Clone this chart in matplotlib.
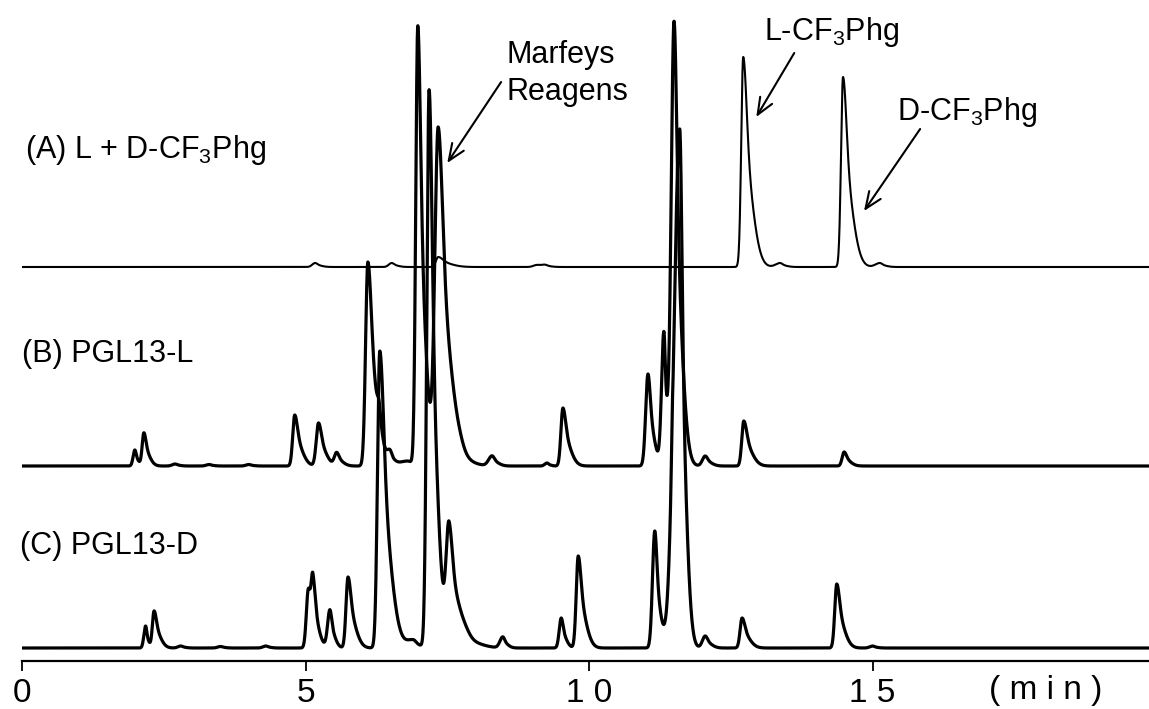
import numpy as np
import matplotlib
matplotlib.use("Agg")
import matplotlib.pyplot as plt

plt.rcParams["font.family"] = ["Liberation Sans", "DejaVu Sans"]
plt.rcParams["mathtext.fontset"] = "custom"
plt.rcParams["mathtext.rm"] = "Liberation Sans"
plt.rcParams["mathtext.it"] = "Liberation Sans:italic"
plt.rcParams["mathtext.default"] = "regular"

# ---- Peak tables ----
# retention time (min), peak height (signal units), left width, right width (min)
a_time   = [5.17, 6.52, 7.34, 9.08, 9.22, 12.72, 13.37, 14.48, 15.13]
a_height = [4, 4, 10, 2, 2, 210, 4, 190, 4]
a_left   = [0.05, 0.05, 0.04, 0.06, 0.06, 0.035, 0.08, 0.035, 0.08]
a_right  = [0.10, 0.10, 0.20, 0.10, 0.10, 0.15, 0.10, 0.15, 0.10]

b_time   = [1.99, 2.15, 2.70, 3.30, 4.00, 4.81, 5.23, 5.55, 6.10, 6.30, 6.49, 6.80,
            6.98, 7.34, 7.70, 8.29, 9.26, 9.54, 11.04, 11.32, 11.50, 12.05, 12.73, 14.50]
b_height = [16, 33, 2, 1.5, 1.5, 51, 43, 13, 204, 18, 12, 5,
            439, 334, 12, 10, 3, 58, 92, 133, 444, 10, 45, 14]
b_left   = [0.03, 0.03, 0.05, 0.05, 0.05, 0.035, 0.04, 0.04, 0.04, 0.03, 0.05, 0.15,
            0.035, 0.058, 0.20, 0.06, 0.04, 0.035, 0.04, 0.04, 0.05, 0.05, 0.035, 0.035]
b_right  = [0.06, 0.09, 0.08, 0.08, 0.08, 0.12, 0.12, 0.10, 0.15, 0.05, 0.08, 0.15,
            0.12, 0.19, 0.22, 0.10, 0.06, 0.12, 0.10, 0.06, 0.12, 0.10, 0.13, 0.10]

c_time   = [2.18, 2.33, 2.80, 3.50, 4.30, 5.05, 5.13, 5.43, 5.75, 6.31, 6.90,
            7.18, 7.53, 7.80, 8.48, 9.51, 9.81, 11.16, 11.47, 11.60, 12.05, 12.70, 14.37, 15.00]
c_height = [22, 37, 2, 1.5, 2, 58, 55, 38, 71, 297, 8,
            558, 116, 14, 11, 30, 92, 117, 20, 519, 12, 30, 64, 2]
c_left   = [0.03, 0.03, 0.05, 0.05, 0.05, 0.035, 0.03, 0.04, 0.035, 0.04, 0.12,
            0.04, 0.05, 0.15, 0.05, 0.035, 0.035, 0.04, 0.015, 0.10, 0.05, 0.035, 0.035, 0.05]
c_right  = [0.05, 0.10, 0.08, 0.08, 0.08, 0.08, 0.10, 0.08, 0.12, 0.17, 0.12,
            0.13, 0.15, 0.25, 0.08, 0.08, 0.12, 0.09, 0.015, 0.10, 0.10, 0.12, 0.12, 0.08]

trace_offsets = {"A": 394, "B": 195, "C": 13}
tick_values = [0, 5, 10, 15]
tick_labels = ["0", "5", "1 0", "1 5"]


def peak(t, t0, h, sl, sr):
    d = t - t0
    left = np.exp(-0.5 * (d / sl) ** 2)
    right = 0.45 * np.exp(-0.5 * (d / (0.37 * sr)) ** 2) + 0.55 * np.exp(-0.5 * (d / sr) ** 2)
    return h * np.where(d < 0, left, right)


def trace(t, times, heights, lefts, rights):
    s = np.zeros_like(t)
    for t0, h, sl, sr in zip(times, heights, lefts, rights):
        s += peak(t, t0, h, sl, sr)
    return s


fig = plt.figure(figsize=(11.49, 7.09), dpi=100)
ax = fig.add_axes([22 / 1149, 48 / 709, 1127 / 1149, 661 / 709])
xmax = 1127 / 56.7
t = np.linspace(0, xmax, 6000)

ax.plot(t, trace_offsets["A"] + trace(t, a_time, a_height, a_left, a_right),
        color="black", lw=1.5, solid_joinstyle="round")
ax.plot(t, trace_offsets["B"] + trace(t, b_time, b_height, b_left, b_right),
        color="black", lw=2.3, solid_joinstyle="round")
ax.plot(t, trace_offsets["C"] + trace(t, c_time, c_height, c_left, c_right),
        color="black", lw=2.3, solid_joinstyle="round")

ax.set_xlim(0, xmax)
ax.set_ylim(0, 661)
for s in ["left", "top", "right"]:
    ax.spines[s].set_visible(False)
ax.spines["bottom"].set_linewidth(1.6)
ax.set_yticks([])
ax.set_xticks(tick_values)
ax.set_xticklabels(tick_labels, fontsize=24)
ax.tick_params(axis="x", direction="out", length=7, width=1.3, pad=5)
ax.text(18.06, -14, "( m i n )", fontsize=24, ha="center", va="top", clip_on=False)

fs = 22
ax.text(0.05, 503, "(A) L + D-CF$_3$Phg", fontsize=fs, ha="left", va="baseline")
ax.text(0.0, 299, "(B) PGL13-L", fontsize=fs, ha="left", va="baseline")
ax.text(-0.04, 107, "(C) PGL13-D", fontsize=fs, ha="left", va="baseline", clip_on=False)

ax.text(8.54, 598, "Marfeys", fontsize=fs, ha="left", va="baseline")
ax.text(8.54, 561, "Reagens", fontsize=fs, ha="left", va="baseline")
ax.text(13.09, 621, "L-CF$_3$Phg", fontsize=fs, ha="left", va="baseline")
ax.text(15.43, 541, "D-CF$_3$Phg", fontsize=fs, ha="left", va="baseline")

arrow_kw = dict(arrowstyle="->,head_length=0.6,head_width=0.25", color="black",
                lw=1.5, shrinkA=0, shrinkB=0, mutation_scale=20)
ax.annotate("", xy=(7.50, 498), xytext=(8.45, 579), arrowprops=arrow_kw)
ax.annotate("", xy=(12.95, 544), xytext=(13.62, 608), arrowprops=arrow_kw)
ax.annotate("", xy=(14.85, 450), xytext=(15.84, 532), arrowprops=arrow_kw)

fig.savefig("out.png", dpi=100)
